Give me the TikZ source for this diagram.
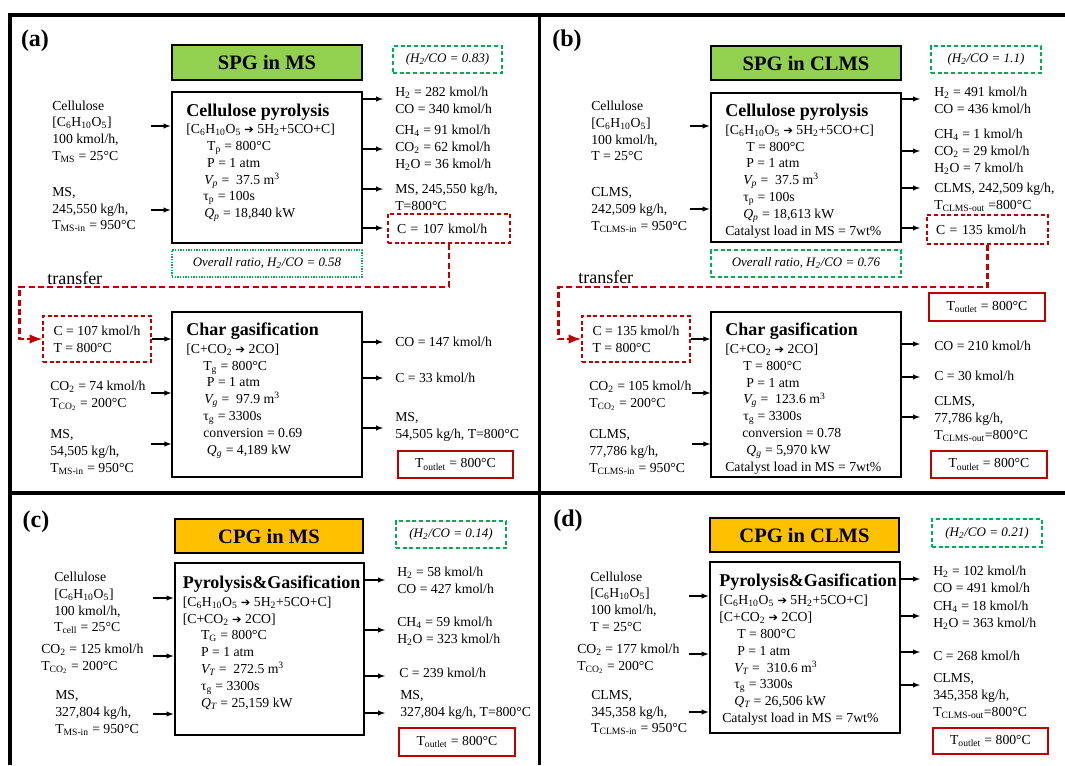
\documentclass[tikz,border=0pt]{standalone}
\usepackage{fontspec}
\setmainfont{Liberation Serif}
\newfontfamily\arrfont{DejaVu Sans}
\usetikzlibrary{arrows}
\definecolor{sgreen}{RGB}{146,208,80}
\definecolor{corange}{RGB}{255,192,0}
\definecolor{dgreen}{RGB}{0,176,80}
\definecolor{dred}{RGB}{192,0,0}
\newcommand{\tsub}[1]{\textsubscript{#1}}
\newcommand{\rarr}{{\arrfont\fontsize{8.5}{10}\selectfont ➔}}

\begin{document}
\begin{tikzpicture}[x=0.75pt,y=0.75pt,yscale=-1,xscale=1,
  wh/.style 2 args={minimum width=#1*0.75pt,minimum height=#2*0.75pt},
  txt/.style={inner sep=0pt,anchor=west,align=left,font=\fontsize{10.3}{12.6}\selectfont},
  ttl/.style={inner sep=0pt,anchor=west,font=\fontsize{13.5}{15}\selectfont\bfseries},
  lbl/.style={inner sep=0pt,font=\fontsize{18}{20}\selectfont\bfseries},
  hdr/.style={draw,line width=2pt,inner sep=0pt,font=\fontsize{15.4}{17}\selectfont\bfseries},
  ratiobox/.style={draw=dgreen,line width=1.1pt,dash pattern=on 3pt off 2pt,inner sep=0pt,font=\fontsize{9.8}{11}\selectfont\itshape},
  ovbox/.style={draw=dgreen,inner sep=0pt,font=\fontsize{9.7}{11}\selectfont\itshape},
  rbox/.style={draw=dred,line width=1.4pt,dash pattern=on 3pt off 2pt,inner sep=0pt,align=left,font=\fontsize{10.3}{12.6}\selectfont},
  obox/.style={draw=dred,line width=1.4pt,inner sep=0pt,font=\fontsize{10.3}{12.6}\selectfont},
  pbox/.style={draw,line width=2.2pt,inner sep=0pt},
  gbox/.style={draw,line width=1pt,inner sep=0pt},
  trtxt/.style={inner sep=0pt,anchor=west,font=\fontsize{13.5}{15}\selectfont},
  arr/.style={->,>=latex,line width=0.8pt},
  xfer/.style={draw=dred,line width=2.2pt,dash pattern=on 4.5pt off 2.5pt,->,>=latex},
  panelline/.style={line width=2.4pt}]
\useasboundingbox (0,0) rectangle (1065,765);

%Straight Lines
\draw[panelline] (10,765) -- (10,15) -- (1065,15) ;
\draw[panelline] (539.5,15) -- (539.5,765) ;
\draw[panelline] (10,493) -- (1065,493) ;

%%%%%%%%%% (a) SPG in MS
\node[lbl] (lblA) at (35,41) {(a)};
\node[hdr,fill=sgreen,wh={190}{35}] (hdrA) at (267,62.5) {SPG in MS};
\node[ratiobox,wh={109}{27}] (ratA) at (447.5,59.5) {(H\tsub{2}/CO = 0.83)};
%Shape: Rectangle
\node[pbox,wh={190}{151}] (pyroA) at (267,167.5) {};
% Text Node
\node[ttl] (ttlA) at (186,112) {Cellulose pyrolysis};
\node[txt] (parA) at (186,173) {[C\tsub{6}H\tsub{10}O\tsub{5} \rarr{} 5H\tsub{2}+5CO+C]\\
  \hspace*{15.7pt}T\tsub{p} = 800°C\\
  \hspace*{15.7pt}P = 1 atm\\
  \hspace*{13.5pt}\textit{V\tsub{p}} = \ 37.5 m\textsuperscript{3}\\
  \hspace*{12.8pt}τ\tsub{p} = 100s\\
  \hspace*{13.5pt}\textit{Q\tsub{p}} = 18,840 kW};
\node[txt] (celA) at (52,131.5) {Cellulose\\ {}[C\tsub{6}H\tsub{10}O\tsub{5}]\\ 100 kmol/h,\\ T\tsub{MS} = 25°C};
\node[txt] (msA) at (52,209.5) {MS,\\ 245,550 kg/h,\\ T\tsub{MS-in} = 950°C};
\node[txt] (outA1) at (395,100.5) {H\tsub{2} = 282 kmol/h\\ CO = 340 kmol/h};
\node[txt] (outA2) at (395,148) {CH\tsub{4} = 91 kmol/h\\ CO\tsub{2} = 62 kmol/h\\ H\tsub{2}O = 36 kmol/h};
\node[txt] (outA3) at (395,197) {MS, 245,550 kg/h,\\ T=800°C};
\node[rbox,wh={122}{29},text width=104*0.75pt] (cA) at (449,228.5) {C = 107 kmol/h};
%Arrows
\coordinate (inA1) at (151,126);
\coordinate (inA2) at (151,210);
\coordinate (oA1) at (383,99);
\coordinate (oA2) at (383,149);
\coordinate (oA3) at (383,189);
\coordinate (oA4) at (383,228);
\draw[arr] (inA1) -- (inA1 -| pyroA.west) ;
\draw[arr] (inA2) -- (inA2 -| pyroA.west) ;
\draw[arr] (oA1 -| pyroA.east) -- (oA1) ;
\draw[arr] (oA2 -| pyroA.east) -- (oA2) ;
\draw[arr] (oA3 -| pyroA.east) -- (oA3) ;
\draw[arr] (oA4 -| pyroA.east) -- (oA4) ;
\node[ovbox,line width=0.8pt,dash pattern=on 1pt off 1pt,wh={190}{27}] (ovA) at (267,263.5) {Overall ratio, H\tsub{2}/CO = 0.58};
\node[trtxt] (trA) at (47,278) {transfer};
\coordinate (turnA) at (19.5,287);
\node[rbox,wh={108}{46}] (cinA) at (97,339) {C = 107 kmol/h\\ T = 800°C};
\draw[xfer] (cA.south) |- (turnA) |- (cinA.west) ;
%Shape: Rectangle
\node[gbox,wh={190}{165}] (gasA) at (267,394.5) {};
\node[ttl] (ttlA2) at (186,331) {Char gasification};
\node[txt] (parA2) at (186,401) {[C+CO\tsub{2} \rarr{} 2CO]\\
  \hspace*{12.8pt}T\tsub{g} = 800°C\\
  \hspace*{15.5pt}P = 1 atm\\
  \hspace*{13.5pt}\textit{V\tsub{g}} = \ 97.9 m\textsuperscript{3}\\
  \hspace*{12.8pt}τ\tsub{g} = 3300s\\
  \hspace*{12.8pt}conversion = 0.69\\
  \hspace*{15.5pt}\textit{Q\tsub{g}} = 4,189 kW};
\node[txt] (co2A) at (50,396) {CO\tsub{2} = 74 kmol/h\\ T\tsub{CO\tsub{2}} = 200°C};
\node[txt] (ms2A) at (50,452) {MS,\\ 54,505 kg/h,\\ T\tsub{MS-in} = 950°C};
\node[txt] (out2A1) at (395,342) {CO = 147 kmol/h};
\node[txt] (out2A2) at (395,378) {C = 33 kmol/h};
\node[txt] (out2A3) at (395,427) {MS,\\ 54,505 kg/h, T=800°C};
\node[obox,wh={115}{27}] (toA) at (455.5,464.5) {T\tsub{outlet} = 800°C};
\coordinate (inA3) at (151,393);
\coordinate (inA4) at (151,444);
\coordinate (o2A1) at (383,342);
\coordinate (o2A2) at (383,378);
\coordinate (o2A3) at (383,428);
\draw[arr] (cinA.east) -- (cinA.east -| gasA.west) ;
\draw[arr] (inA3) -- (inA3 -| gasA.west) ;
\draw[arr] (inA4) -- (inA4 -| gasA.west) ;
\draw[arr] (o2A1 -| gasA.east) -- (o2A1) ;
\draw[arr] (o2A2 -| gasA.east) -- (o2A2) ;
\draw[arr] (o2A3 -| gasA.east) -- (o2A3) ;

%%%%%%%%%% (b) SPG in CLMS
\node[lbl] (lblB) at (567,41) {(b)};
\node[hdr,fill=sgreen,wh={190}{34}] (hdrB) at (806,63) {SPG in CLMS};
\node[ratiobox,wh={110}{27}] (ratB) at (986,59.5) {(H\tsub{2}/CO = 1.1)};
%Shape: Rectangle
\node[pbox,wh={190}{149}] (pyroB) at (806,167.5) {};
\node[ttl] (ttlB) at (725,112) {Cellulose pyrolysis};
\node[txt] (parB) at (725,181.5) {[C\tsub{6}H\tsub{10}O\tsub{5} \rarr{} 5H\tsub{2}+5CO+C]\\
  \hspace*{15.8pt}T = 800°C\\
  \hspace*{15.8pt}P = 1 atm\\
  \hspace*{13.5pt}\textit{V\tsub{p}} = \ 37.5 m\textsuperscript{3}\\
  \hspace*{13.5pt}τ\tsub{p} = 100s\\
  \hspace*{13.5pt}\textit{Q\tsub{p}} = 18,613 kW\\
  Catalyst load in MS = 7wt\%};
\node[txt] (celB) at (591,131) {Cellulose\\ {}[C\tsub{6}H\tsub{10}O\tsub{5}]\\ 100 kmol/h,\\ T = 25°C};
\node[txt] (clmsB) at (591,210) {CLMS,\\ 242,509 kg/h,\\ T\tsub{CLMS-in} = 950°C};
\node[txt] (outB1) at (934,100) {H\tsub{2} = 491 kmol/h\\ CO = 436 kmol/h};
\node[txt] (outB2) at (934,152) {CH\tsub{4} = 1 kmol/h\\ CO\tsub{2} = 29 kmol/h\\ H\tsub{2}O = 7 kmol/h};
\node[txt] (outB3) at (934,197.5) {CLMS, 242,509 kg/h,\\ T\tsub{CLMS-out} =800°C};
\node[rbox,wh={121}{29},text width=103*0.75pt] (cB) at (987.5,229.5) {C = 135 kmol/h};
\coordinate (inB1) at (690,126);
\coordinate (inB2) at (690,209);
\coordinate (oB1) at (920,99);
\coordinate (oB2) at (920,151);
\coordinate (oB3) at (920,188);
\coordinate (oB4) at (920,228);
\draw[arr] (inB1) -- (inB1 -| pyroB.west) ;
\draw[arr] (inB2) -- (inB2 -| pyroB.west) ;
\draw[arr] (oB1 -| pyroB.east) -- (oB1) ;
\draw[arr] (oB2 -| pyroB.east) -- (oB2) ;
\draw[arr] (oB3 -| pyroB.east) -- (oB3) ;
\draw[arr] (oB4 -| pyroB.east) -- (oB4) ;
\node[ovbox,line width=1.1pt,dash pattern=on 3pt off 2pt,wh={190}{27}] (ovB) at (806,263.5) {Overall ratio, H\tsub{2}/CO = 0.76};
\node[trtxt] (trB) at (578,277) {transfer};
\coordinate (turnB) at (558.5,287);
\node[obox,wh={116}{28}] (toB1) at (987,307) {T\tsub{outlet} = 800°C};
\node[rbox,wh={108}{46}] (cinB) at (636,339) {C = 135 kmol/h\\ T = 800°C};
\draw[xfer] (cB.south) |- (turnB) |- (cinB.west) ;
%Shape: Rectangle
\node[gbox,wh={190}{165}] (gasB) at (806,394.5) {};
\node[ttl] (ttlB2) at (725,331) {Char gasification};
\node[txt] (parB2) at (725,409) {[C+CO\tsub{2} \rarr{} 2CO]\\
  \hspace*{13.5pt}T = 800°C\\
  \hspace*{15.8pt}P = 1 atm\\
  \hspace*{13.5pt}\textit{V\tsub{g}} = \ 123.6 m\textsuperscript{3}\\
  \hspace*{13.5pt}τ\tsub{g} = 3300s\\
  \hspace*{12.8pt}conversion = 0.78\\
  \hspace*{15.8pt}\textit{Q\tsub{g}} = 5,970 kW\\
  Catalyst load in MS = 7wt\%};
\node[txt] (co2B) at (589,396) {CO\tsub{2} = 105 kmol/h\\ T\tsub{CO\tsub{2}} = 200°C};
\node[txt] (clms2B) at (589,452) {CLMS,\\ 77,786 kg/h,\\ T\tsub{CLMS-in} = 950°C};
\node[txt] (out2B1) at (934,346) {CO = 210 kmol/h};
\node[txt] (out2B2) at (934,376) {C = 30 kmol/h};
\node[txt] (out2B3) at (934,419) {CLMS,\\ 77,786 kg/h,\\ T\tsub{CLMS-out}=800°C};
\node[obox,wh={116}{27}] (toB2) at (989,464.5) {T\tsub{outlet} = 800°C};
\coordinate (inB3) at (692,393);
\coordinate (inB4) at (692,444);
\coordinate (o2B1) at (920,344);
\coordinate (o2B2) at (920,377);
\coordinate (o2B3) at (920,417);
\draw[arr] (cinB.east) -- (cinB.east -| gasB.west) ;
\draw[arr] (inB3) -- (inB3 -| gasB.west) ;
\draw[arr] (inB4) -- (inB4 -| gasB.west) ;
\draw[arr] (o2B1 -| gasB.east) -- (o2B1) ;
\draw[arr] (o2B2 -| gasB.east) -- (o2B2) ;
\draw[arr] (o2B3 -| gasB.east) -- (o2B3) ;

%%%%%%%%%% (c) CPG in MS
\node[lbl] (lblC) at (36,522) {(c)};
\node[hdr,fill=corange,wh={188}{34}] (hdrC) at (269,536) {CPG in MS};
\node[ratiobox,wh={110}{27}] (ratC) at (451,534.5) {(H\tsub{2}/CO = 0.14)};
%Shape: Rectangle
\node[pbox,wh={189}{172}] (boxC) at (269.5,649) {};
\node[ttl] (ttlC) at (182.5,584) {Pyrolysis\&Gasification};
\node[txt] (parC) at (182.5,653) {[C\tsub{6}H\tsub{10}O\tsub{5} \rarr{} 5H\tsub{2}+5CO+C]\\
  {}[C+CO\tsub{2} \rarr{} 2CO]\\
  \hspace*{13.7pt}T\tsub{G} = 800°C\\
  \hspace*{13.7pt}P = 1 atm\\
  \hspace*{13.7pt}\textit{V\tsub{T}} = \ 272.5 m\textsuperscript{3}\\
  \hspace*{13.7pt}τ\tsub{g} = 3300s\\
  \hspace*{13.7pt}\textit{Q\tsub{T}} = 25,159 kW};
\node[txt] (celC) at (54,603) {Cellulose\\ {}[C\tsub{6}H\tsub{10}O\tsub{5}]\\ 100 kmol/h,\\ T\tsub{cell} = 25°C};
\node[txt] (co2C) at (41,659) {CO\tsub{2} = 125 kmol/h\\ T\tsub{CO\tsub{2}} = 200°C};
\node[txt] (msC) at (55,713) {MS,\\ 327,804 kg/h,\\ T\tsub{MS-in} = 950°C};
\node[txt] (outC1) at (397,580.5) {H\tsub{2} = 58 kmol/h\\ CO = 427 kmol/h};
\node[txt] (outC2) at (397,631.5) {CH\tsub{4} = 59 kmol/h\\ H\tsub{2}O = 323 kmol/h};
\node[txt] (outC3) at (399,673) {C = 239 kmol/h};
\node[txt] (outC4) at (400,705) {MS,\\ 327,804 kg/h, T=800°C};
\node[obox,wh={116}{28}] (toC) at (457,742) {T\tsub{outlet} = 800°C};
\coordinate (inC1) at (153,598);
\coordinate (inC2) at (153,656);
\coordinate (inC3) at (153,714);
\coordinate (oC1) at (385,580);
\coordinate (oC2) at (385,630);
\coordinate (oC3) at (385,676);
\coordinate (oC4) at (385,713);
\draw[arr] (inC1) -- (inC1 -| boxC.west) ;
\draw[arr] (inC2) -- (inC2 -| boxC.west) ;
\draw[arr] (inC3) -- (inC3 -| boxC.west) ;
\draw[arr] (oC1 -| boxC.east) -- (oC1) ;
\draw[arr] (oC2 -| boxC.east) -- (oC2) ;
\draw[arr] (oC3 -| boxC.east) -- (oC3) ;
\draw[arr] (oC4 -| boxC.east) -- (oC4) ;

%%%%%%%%%% (d) CPG in CLMS
\node[lbl] (lblD) at (568,521) {(d)};
\node[hdr,fill=corange,wh={189}{34}] (hdrD) at (804.5,535) {CPG in CLMS};
\node[ratiobox,wh={110}{28}] (ratD) at (987,533) {(H\tsub{2}/CO = 0.21)};
%Shape: Rectangle
\node[pbox,wh={190}{171}] (boxD) at (805,647.5) {};
\node[ttl] (ttlD) at (719,582) {Pyrolysis\&Gasification};
\node[txt] (parD) at (719,660.5) {[C\tsub{6}H\tsub{10}O\tsub{5} \rarr{} 5H\tsub{2}+5CO+C]\\
  {}[C+CO\tsub{2} \rarr{} 2CO]\\
  \hspace*{13.5pt}T = 800°C\\
  \hspace*{13.5pt}P = 1 atm\\
  \hspace*{11.3pt}\textit{V\tsub{T}} = \ 310.6 m\textsuperscript{3}\\
  \hspace*{11.3pt}τ\tsub{g} = 3300s\\
  \hspace*{11.3pt}\textit{Q\tsub{T}} = 26,506 kW\\
  \hspace*{2.3pt}Catalyst load in MS = 7wt\%};
\node[txt] (celD) at (590,601.5) {Cellulose\\ {}[C\tsub{6}H\tsub{10}O\tsub{5}]\\ 100 kmol/h,\\ T = 25°C};
\node[txt] (co2D) at (577,658.5) {CO\tsub{2} = 177 kmol/h\\ T\tsub{CO\tsub{2}} = 200°C};
\node[txt] (clmsD) at (591,712.5) {CLMS,\\ 345,358 kg/h,\\ T\tsub{CLMS-in} = 950°C};
\node[txt] (outD1) at (933,579.5) {H\tsub{2} = 102 kmol/h\\ CO = 491 kmol/h};
\node[txt] (outD2) at (933,615) {CH\tsub{4} = 18 kmol/h\\ H\tsub{2}O = 363 kmol/h};
\node[txt] (outD3) at (933,656) {C = 268 kmol/h};
\node[txt] (outD4) at (933,696) {CLMS,\\ 345,358 kg/h,\\ T\tsub{CLMS-out}=800°C};
\node[obox,wh={115}{26}] (toD) at (990.5,741) {T\tsub{outlet} = 800°C};
\coordinate (inD1) at (689,596);
\coordinate (inD2) at (689,654);
\coordinate (inD3) at (689,712);
\coordinate (oD1) at (920,579);
\coordinate (oD2) at (920,616);
\coordinate (oD3) at (920,652);
\coordinate (oD4) at (920,685);
\draw[arr] (inD1) -- (inD1 -| boxD.west) ;
\draw[arr] (inD2) -- (inD2 -| boxD.west) ;
\draw[arr] (inD3) -- (inD3 -| boxD.west) ;
\draw[arr] (oD1 -| boxD.east) -- (oD1) ;
\draw[arr] (oD2 -| boxD.east) -- (oD2) ;
\draw[arr] (oD3 -| boxD.east) -- (oD3) ;
\draw[arr] (oD4 -| boxD.east) -- (oD4) ;

\end{tikzpicture}
\end{document}
